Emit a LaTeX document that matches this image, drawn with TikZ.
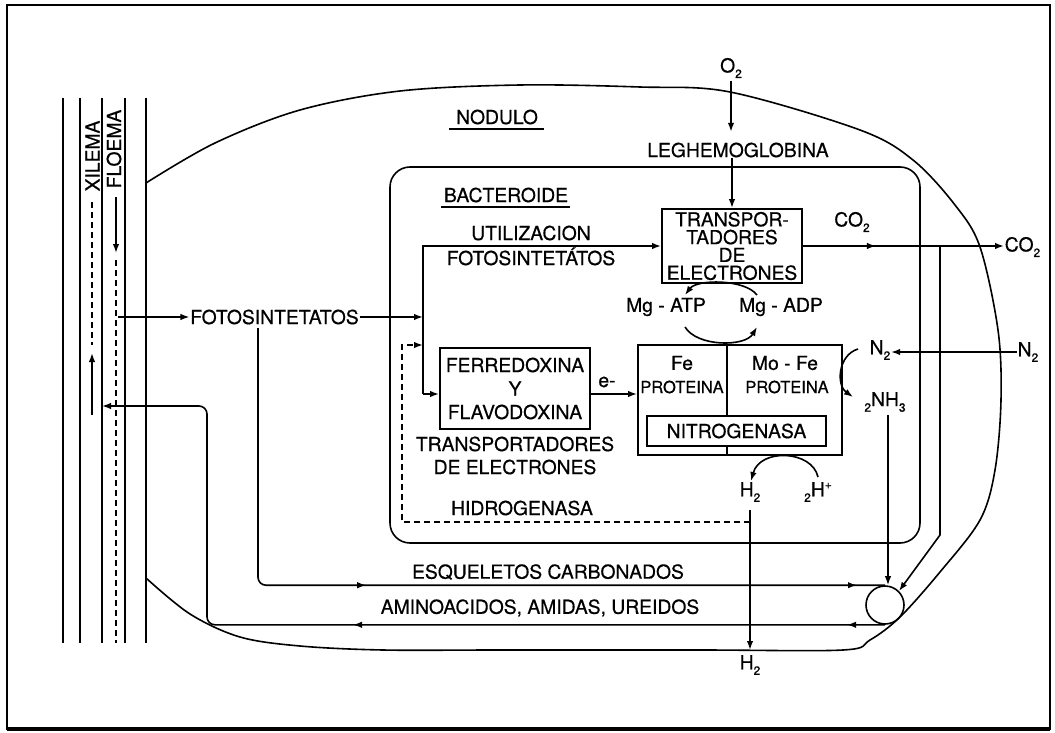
\documentclass[tikz,border=0pt]{standalone}
\usepackage{fontspec}
\setmainfont{TeX Gyre Heros}[FakeBold=0.5]
\usetikzlibrary{arrows.meta,decorations.markings}
\newcommand{\lowsub}[1]{\raisebox{-0.55ex}{\fontsize{12}{12}\selectfont #1}}
\newcommand{\highsup}[1]{\raisebox{0.75ex}{\fontsize{12}{12}\selectfont #1}}

\begin{document}
\begin{tikzpicture}[x=1pt, y=-1pt, line width=1.6pt,
  every node/.style={inner sep=0pt, align=center, font=\fontsize{19.3}{23}\selectfont},
  small/.style={font=\fontsize{16.5}{18}\selectfont},
  arr/.style={-{Latex[length=9pt,width=6.5pt]}},
  midtip/.style={postaction={decorate, decoration={markings,
    mark=at position #1 with {\arrow{Latex[length=9pt,width=6.5pt]}}}}},
  dashline/.style={dash pattern=on 6pt off 4pt}]
\useasboundingbox (0,0) rectangle (1055,733);
% marco
\draw[line width=1.8pt] (7,5) rectangle (1050,729);
\draw[line width=3.5pt] (7,729) -- (1050,729);

% tallo: xilema y floema
\foreach \sx in {62.7,80,101.7,125,146}
  \draw (\sx,98) -- (\sx,643);
\node[rotate=90] (xil) at (92.5,156) {XILEMA};
\node[rotate=90] (flo) at (114,149) {FLOEMA};
\draw[dashline] (92,202) -- (92,345);
\draw[arr] (92,415) -- (92,353);
\draw[arr] (116,197) -- (116,253);
\draw[dashline] (116,260) -- (116,643);

% nodulo
\draw plot[smooth, tension=0.55] coordinates {(146,183) (215,143) (300,110) (400,91) (520,85) (640,87) (730,92) (860,130) (913,160) (955,205) (980,247) (998,330) (1001,400) (995,470) (980,520) (940,572) (900,617) (870,640) (843,650) (700,650) (500,650) (383,650) (300,646) (240,637) (190,614) (146,578)};
\node (nod) at (497,117) {NODULO};
\draw ([xshift=-6pt,yshift=-4pt]nod.south west) -- ([xshift=5pt,yshift=-4pt]nod.south east);

% bacteroide
\draw[rounded corners=20pt] (390,167) rectangle (920,543);
\node (bact) at (506,195) {BACTEROIDE};
\draw ([xshift=-2pt,yshift=-4pt]bact.south west) -- ([xshift=1pt,yshift=-4pt]bact.south east);

% textos
\node (fotos) at (274.5,317) {FOTOSINTETATOS};
\node (o2) at (731,68) {O\lowsub{2}};
\node (leg) at (738,150) {LEGHEMOGLOBINA};
\node (util) at (531,245.5) [font=\fontsize{19.3}{25}\selectfont] {UTILIZACION\\FOTOSINTETÁTOS};
\node (trans) at (732,246) [draw, line width=1.9pt, minimum width=140pt, minimum height=74pt, font=\fontsize{19.3}{17.8}\selectfont] {TRANSPOR-\\TADORES\\DE\\ELECTRONES};
\node (co2a) at (852,222) {CO\lowsub{2}};
\node (co2b) at (1004,247) [anchor=west] {CO\lowsub{2}};
\node (atp) at (666,307) {Mg - ATP};
\node (adp) at (781,307) {Mg - ADP};
\node (ferro) at (515,388.5) [draw, line width=1.8pt, minimum width=150pt, minimum height=81pt, font=\fontsize{19.3}{23.5}\selectfont] {FERREDOXINA\\Y\\FLAVODOXINA};
\node (tlab) at (515,455.5) {TRANSPORTADORES\\DE ELECTRONES};
\node (hidro) at (522,508) {HIDROGENASA};
\node (em) at (607,382) {e-};
\node (nitro) at (740,400) [draw, line width=1.8pt, minimum width=204pt, minimum height=110pt] {};
\draw (727,345) -- (727,455);
\node (nitg) at (736.5,431) [draw, fill=white, minimum width=179pt, minimum height=30pt] {NITROGENASA};
\node (fe) at (682,363) {Fe};
\node (pro1) at (682,387) [small] {PROTEINA};
\node (mofe) at (785,363) {Mo - Fe};
\node (pro2) at (787,387) [small] {PROTEINA};
\node (n2in) at (880,350) {N\lowsub{2}};
\node (n2out) at (1028,352) {N\lowsub{2}};
\node (nh3) at (885,402) {\lowsub{2}NH\lowsub{3}};
\node (h2a) at (750,492) {H\lowsub{2}};
\node (hplus) at (818,492) {\lowsub{2}H\highsup{+}};
\node (h2b) at (750,665) {H\lowsub{2}};
\node (esq) at (548,572) {ESQUELETOS CARBONADOS};
\node (amino) at (540,608) {AMINOACIDOS, AMIDAS, UREIDOS};
\node (pool) at (885,605) [draw, circle, minimum size=38pt] {};

% puntos de paso
\coordinate (flout) at (118,317);
\coordinate (jtop) at (423,246);
\coordinate (jbot) at (423,394);
\coordinate (dcorner) at (402,345);
\coordinate (hd) at (750,522);
\coordinate (h2top) at (750,510);
\coordinate (h2bot) at (750,650);
\coordinate (cfork) at (940,246);
\coordinate (cbend) at (940,535);
\coordinate (nhb) at (888,415);
\coordinate (esqtop) at (258,328);
\coordinate (amcorner) at (207,406);
\coordinate (xyl) at (102,406);
\coordinate (adpout) at (757,295);
\coordinate (atpin) at (685,295);
\coordinate (atpout) at (685,327);
\coordinate (adpin) at (757,327);
\coordinate (hp1) at (818,477);
\coordinate (hp2) at (751,481);

% conexiones
\draw[arr] (flout) -- (fotos.west);
\draw[arr] (fotos.east) -- (fotos.east -| jtop);
\draw[arr] (jbot) |- (trans.west);
\draw[arr] (jbot) -- (jbot -| ferro.west);
\draw[arr] (jbot -| ferro.east) -- (jbot -| nitro.west);
\draw[arr, dashline] (hd) -| (dcorner) -- (dcorner -| jtop);
\draw[arr, shorten <=2pt, shorten >=10pt] (o2.south) -- (o2.south |- leg.north);
\draw[arr] (trans.north |- leg.south) -- (trans.north);
\draw[arr, midtip=73pt] (trans.east) -- (trans.east -| co2b.west);
\draw[arr] (cfork) -- (cbend) -- (pool.45);
\draw[arr] (adpout) .. controls (745,279) and (697,279) .. (atpin);
\draw[arr] (atpout) .. controls (697,347) and (745,347) .. (adpin);
\draw[arr] (n2out.west) -- (n2out.west -| n2in.east);
\draw[arr] (858,349) .. controls (838,355) and (836,385) .. (853,397);
\draw[arr] (hp1) .. controls (812,450) and (760,448) .. (hp2);
\draw[arr] (h2top) -- (h2bot);
\draw[arr] (nhb) -- (nhb |- pool.north);
\draw[rounded corners=8pt, midtip=362pt, midtip=-28pt] (esqtop) |- (pool.north);
\draw[arr, rounded corners=8pt, midtip=38pt, midtip=532pt] (pool.south) -| (amcorner) -- (xyl);
\end{tikzpicture}
\end{document}
